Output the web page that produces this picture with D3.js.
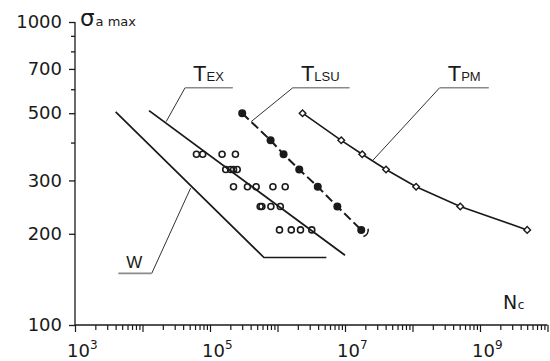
<!DOCTYPE html>
<html><head><meta charset="utf-8">
<script src="https://cdn.jsdelivr.net/npm/d3@7"></script>
<style>
html,body{margin:0;padding:0;background:#fff;}
svg{display:block;}
</style></head><body>
<svg id="chart" width="550" height="361"></svg>
<script>
// S-N data: maximum stress amplitude against cycles to crack initiation
const stressLevels = [500, 407, 366, 326, 286, 246, 206];
const lsuCycles = [3.0e5, 7.9e5, 1.23e6, 2.1e6, 3.95e6, 7.7e6, 1.74e7];
const pmCycles = [2.35e6, 8.8e6, 1.8e7, 4.05e7, 1.13e8, 5.1e8, 5.0e9];

// experimental results (open circles)
const exStress = [366, 366, 366, 366, 326, 326, 326, 326, 286, 286, 286, 286, 286, 246, 246, 246, 246, 206, 206, 206, 206];
const exCycles = [6.3e4, 7.8e4, 1.51e5, 2.38e5, 1.71e5, 2.02e5, 2.23e5, 2.53e5, 2.23e5, 3.59e5, 4.83e5, 8.55e5, 1.30e6, 5.54e5, 5.87e5, 7.98e5, 1.10e6, 1.07e6, 1.60e6, 2.19e6, 3.22e6];

// fitted T_EX line and the W curve
const exFitCycles = [1.25e4, 1.0e7];
const exFitStress = [510, 170];
const wCycles = [4.0e3, 6.3e5, 5.3e6];
const wStress = [505, 167, 167];

// axis ticks
const yTickValues = [100, 200, 300, 400, 500, 600, 700, 800, 900, 1000];
const yTickLabels = [100, 200, 300, 500, 700, 1000];
const xDecades = [3, 4, 5, 6, 7, 8, 9, 10];
const xLabelExponents = [3, 5, 7, 9];

// curve labels with their leader lines (data coordinates)
const labelNames = ["T", "T", "T", "W"];
const labelSubs = ["EX", "LSU", "PM", ""];
const labelAnchorN = [2.24e4, 4.07e5, 2.60e7, 5.16e4];
const labelAnchorS = [469, 469, 350, 283];
const labelElbowN = [4.28e4, 1.69e6, 2.53e8, 1.37e4];
const labelElbowS = [607, 607, 607, 148];
const labelEndN = [2.18e5, 1.17e7, 1.35e9, 4.39e3];

const svg = d3.select("#chart");
const x = d3.scaleLog().domain([1e3, 1e10]).range([75, 547.5]);
const y = d3.scaleLog().domain([100, 1000]).range([325, 22]);

const ink = "#1a1a1a";
const tickFont = "DejaVu Sans, Verdana, sans-serif";
const labelFont = "Liberation Sans, Arial, Helvetica, sans-serif";

// ---- y axis
const yAxis = d3.axisLeft(y)
  .tickValues(yTickValues)
  .tickSize(6)
  .tickPadding(7)
  .tickFormat(d => yTickLabels.includes(d) ? String(d) : "");
const gy = svg.append("g").attr("transform", "translate(75,0)").call(yAxis);
gy.select(".domain").attr("d", `M0,${y(1000)}V${y(100)}`).attr("stroke", ink).attr("stroke-width", 1.3);
gy.selectAll(".tick line")
  .attr("stroke", ink).attr("stroke-width", 1.3)
  .attr("x2", d => yTickLabels.includes(d) ? -6 : -4);
gy.selectAll(".tick text")
  .attr("font-family", tickFont).attr("font-size", 18).attr("fill", ink);

// ---- x axis
const xTickValues = [];
xDecades.forEach(e => {
  for (let m = 1; m <= 9; m++) {
    if (e === 10 && m > 1) break;
    xTickValues.push(m * Math.pow(10, e));
  }
});
const isDecade = d => Math.abs(Math.log10(d) - Math.round(Math.log10(d))) < 1e-9;
const xAxis = d3.axisBottom(x).tickValues(xTickValues).tickSize(6).tickFormat("");
const gx = svg.append("g").attr("transform", `translate(0,${y(100)})`).call(xAxis);
gx.select(".domain").attr("d", `M${x(1e3)},0H${x(1e10)}`).attr("stroke", ink).attr("stroke-width", 1.3);
gx.selectAll(".tick line")
  .attr("stroke", ink).attr("stroke-width", 1.2)
  .attr("y2", d => isDecade(d) ? 7 : 5);

xLabelExponents.forEach(e => {
  const t = svg.append("text")
    .attr("x", x(Math.pow(10, e)) - 8)
    .attr("y", 357)
    .attr("font-family", tickFont)
    .attr("fill", ink);
  t.append("tspan").attr("font-size", 18).text("10");
  t.append("tspan").attr("font-size", 12).attr("dy", -8).text(String(e));
});

// axis titles
const yTitle = svg.append("text").attr("x", 80).attr("y", 26).attr("font-family", tickFont).attr("fill", ink);
yTitle.append("tspan").attr("font-size", 23).text("σ");
yTitle.append("tspan").attr("font-size", 13).attr("dx", 1).text("a max");

const xTitle = svg.append("text").attr("x", 503).attr("y", 309).attr("font-family", tickFont).attr("fill", ink);
xTitle.append("tspan").attr("font-size", 19).text("N");
xTitle.append("tspan").attr("font-size", 12).attr("dx", 0.5).text("c");

// ---- curves
const line = d3.line().x(d => x(d[0])).y(d => y(d[1]));

svg.append("path")
  .attr("d", line(d3.zip(wCycles, wStress)))
  .attr("fill", "none").attr("stroke", ink).attr("stroke-width", 1.7);

svg.append("path")
  .attr("d", line(d3.zip(exFitCycles, exFitStress)))
  .attr("fill", "none").attr("stroke", ink).attr("stroke-width", 1.8);

svg.append("path")
  .attr("d", line(d3.zip(lsuCycles, stressLevels)))
  .attr("fill", "none").attr("stroke", ink).attr("stroke-width", 2)
  .attr("stroke-dasharray", "9,4");

svg.append("path")
  .attr("d", line(d3.zip(pmCycles, stressLevels)))
  .attr("fill", "none").attr("stroke", ink).attr("stroke-width", 1.6);

// experimental points
svg.append("g").selectAll("circle")
  .data(d3.zip(exCycles, exStress))
  .join("circle")
  .attr("cx", d => x(d[0])).attr("cy", d => y(d[1])).attr("r", 3)
  .attr("fill", "none").attr("stroke", ink).attr("stroke-width", 1.6);

// T_LSU points
svg.append("g").selectAll("circle")
  .data(d3.zip(lsuCycles, stressLevels))
  .join("circle")
  .attr("cx", d => x(d[0])).attr("cy", d => y(d[1])).attr("r", 4)
  .attr("fill", ink);

// run-out mark on the last T_LSU point
const last = lsuCycles.length - 1;
svg.append("path")
  .attr("transform", `translate(${x(lsuCycles[last])},${y(stressLevels[last])})`)
  .attr("d", d3.arc()({innerRadius: 7, outerRadius: 7, startAngle: Math.PI * 0.45, endAngle: Math.PI * 0.9}))
  .attr("fill", "none").attr("stroke", ink).attr("stroke-width", 1.6);

// T_PM points (open diamonds)
const diamond = d3.symbol().type(d3.symbolSquare).size(22);
svg.append("g").selectAll("path")
  .data(d3.zip(pmCycles, stressLevels))
  .join("path")
  .attr("transform", d => `translate(${x(d[0])},${y(d[1])}) rotate(45)`)
  .attr("d", diamond)
  .attr("fill", "#fff").attr("stroke", ink).attr("stroke-width", 1.4);

// ---- labels with leader lines
labelNames.forEach((name, i) => {
  const ax = x(labelAnchorN[i]), ay = y(labelAnchorS[i]);
  const ex = x(labelElbowN[i]), ey = y(labelElbowS[i]);
  const hx = x(labelEndN[i]);
  svg.append("line").attr("x1", ax).attr("y1", ay).attr("x2", ex).attr("y2", ey)
    .attr("stroke", "#333").attr("stroke-width", 1);
  svg.append("line").attr("x1", ex).attr("y1", ey).attr("x2", hx).attr("y2", ey)
    .attr("stroke", "#8a8a8a").attr("stroke-width", 1.6);
  const left = Math.min(ex, hx);
  const t = svg.append("text").attr("font-family", labelFont).attr("fill", ink);
  if (labelSubs[i]) {
    t.attr("x", left + 8).attr("y", ey - 6.5);
    t.append("tspan").attr("font-size", 22).text(name);
    t.append("tspan").attr("font-size", 13).text(labelSubs[i]);
  } else {
    t.attr("x", left + 8).attr("y", ey - 5).attr("font-size", 17).text(name);
  }
});
</script>
</body></html>
